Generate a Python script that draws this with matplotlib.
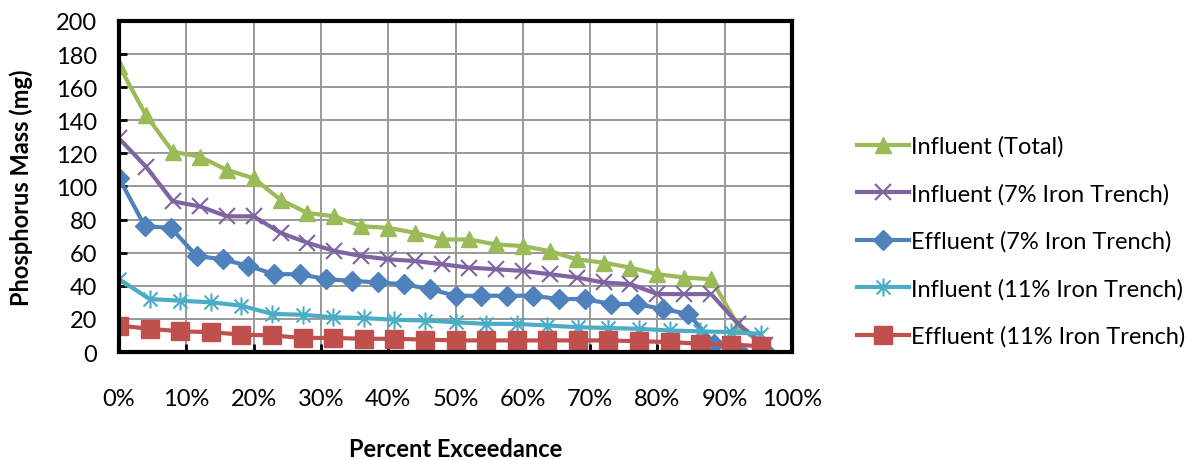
import numpy as np
import matplotlib.pyplot as plt
from matplotlib.path import Path
from matplotlib.ticker import FuncFormatter

plt.rcParams['font.family'] = ['Lato', 'DejaVu Sans']

# exceedance positions: rank / n for each data set
x25 = np.arange(25) / 25 * 100
x26 = np.arange(26) / 26 * 100
x22 = np.arange(22) / 22 * 100

influent_total = [173, 143, 121, 118, 110, 105, 92, 84, 82, 76, 75, 72, 68,
                  68, 65, 64, 61, 56, 54, 51, 47, 45, 44, 16, 3]
influent_7 = [129, 112, 91, 88, 82, 82, 72, 66, 61, 58, 56, 55, 53,
              51, 50, 49, 47, 45, 42, 41, 35, 35, 35, 17, 4]
effluent_7 = [105, 76, 75, 58, 56, 52, 47, 47, 44, 43, 42, 41, 38,
              34, 34, 34, 34, 32, 32, 29, 29, 26, 23, 5, 0, 0]
influent_11 = [44, 32, 31, 30, 28, 23, 22.5, 21, 20.5, 19.5, 19, 18,
               17, 17, 16, 15, 14.5, 14, 13, 12.5, 12, 11]
effluent_11 = [16, 14, 12.5, 12, 10.5, 10, 8.5, 8.5, 8, 8, 7.5, 7,
               7, 7, 7, 7, 7, 6.5, 6, 5, 4.5, 3.5]

labels = ['Influent (Total)', 'Influent (7% Iron Trench)', 'Effluent (7% Iron Trench)',
          'Influent (11% Iron Trench)', 'Effluent (11% Iron Trench)']
colors = ['#9bbb59', '#8064a2', '#4f81bd', '#4bacc6', '#c0504d']

# x plus vertical bar, like the spreadsheet asterisk marker
star = Path([(-1, -1), (1, 1), (-1, 1), (1, -1), (0, -1.3), (0, 1.3)],
            [Path.MOVETO, Path.LINETO, Path.MOVETO, Path.LINETO, Path.MOVETO, Path.LINETO])

fig = plt.figure(figsize=(11.99, 4.6), dpi=100)
ax = fig.add_axes([0.0993, 0.2326, 0.5612, 0.7196])

ax.plot(x25, influent_total, color=colors[0], lw=3, marker='^', ms=12, label=labels[0])
ax.plot(x25, influent_7, color=colors[1], lw=3, marker='x', ms=11, mew=1.5, label=labels[1])
ax.plot(x26, effluent_7, color=colors[2], lw=3, marker='D', ms=10, label=labels[2])
ax.plot(x22, influent_11, color=colors[3], lw=3, marker=star, ms=13, mew=1.5, label=labels[3])
ax.plot(x22, effluent_11, color=colors[4], lw=3, marker='s', ms=12.5, label=labels[4])

ax.set_xlim(0, 100)
ax.set_ylim(0, 200)
ax.set_xticks(np.arange(0, 101, 10))
ax.set_yticks(np.arange(0, 201, 20))
ax.xaxis.set_major_formatter(FuncFormatter(lambda v, p: '%d%%' % v))
ax.grid(True, color='#999999', lw=1.4)
ax.set_axisbelow(True)
for s in ax.spines.values():
    s.set_linewidth(3)
    s.set_color('black')
ax.tick_params(direction='in', length=6, width=2, labelsize=17, color='black')
ax.tick_params(axis='x', pad=26)
ax.tick_params(axis='y', pad=16)

ax.set_xlabel('Percent Exceedance', fontsize=17, fontweight='bold', labelpad=20)
ax.set_ylabel('Phosphorus Mass (mg)', fontsize=17, fontweight='bold', labelpad=16)

leg = ax.legend(loc='center left', bbox_to_anchor=(1.065, 0.335), frameon=False,
                fontsize=17, handlelength=2.2, handletextpad=0.1, labelspacing=1.1)

fig.savefig('out.png', dpi=100)
